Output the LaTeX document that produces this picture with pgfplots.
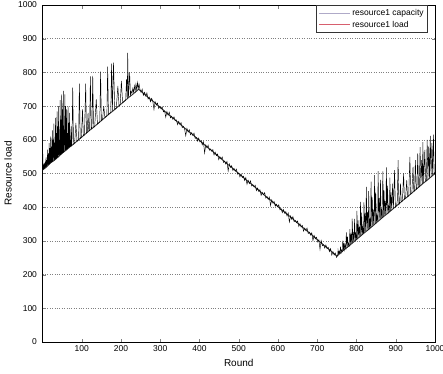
\documentclass[border=0pt]{standalone}
\usepackage{fontspec}
\setmainfont{Liberation Sans}
\usepackage{pgfplots}
\pgfplotsset{compat=1.18}

\definecolor{capcol}{RGB}{175,170,200}
\definecolor{loadcol}{RGB}{215,95,110}

\begin{document}
\begin{tikzpicture}
\begin{axis}[
  at={(0pt,0pt)}, anchor=south west,
  scale only axis,
  width=392.5pt, height=337pt,
  xmin=0, xmax=1000, ymin=0, ymax=1000,
  xtick={100,200,...,1000},
  ytick={0,100,...,1000},
  tick align=inside,
  tick pos=both,
  major tick length=3.5pt,
  ymajorgrids,
  major grid style={black!50, dotted, line width=0.5pt},
  axis line style={black, line width=0.6pt},
  /pgf/number format/assume math mode=true,
  /pgf/number format/1000 sep={},
  tick label style={font=\fontsize{8.5}{10}\selectfont},
  yticklabel style={xshift=-2pt},
  xlabel={Round},
  ylabel={Resource load},
  label style={font=\fontsize{8.5}{10}\selectfont},
  every axis x label/.style={at={(axis description cs:0.5,-0.062)}, anchor=center},
  every axis y label/.style={at={(axis description cs:-0.088,0.5)}, rotate=90, anchor=center},
  legend image code/.code={\draw[#1] (0pt,0pt) -- (31pt,0pt);},
  legend cell align=left,
  legend style={at={(axis description cs:0.982,1)}, anchor=north east,
    draw=black!80, line width=0.5pt, fill=white,
    inner xsep=2pt, inner ysep=2pt,
    row sep=0pt,
    font=\fontsize{8.5}{9.5}\selectfont},
]
\addlegendimage{color=capcol, line width=0.6pt}
\addlegendentry{resource1 capacity}
\addlegendimage{color=loadcol, line width=0.6pt}
\addlegendentry{resource1 load}

% resource1 capacity
\addplot[black!80, line width=0.9pt, forget plot] coordinates {
(0,510)(10,519)(20,531)(30,539)(40,549)(50,560)(60,569)(70,579)(80,588)(90,598)
(100,608)(110,618)(120,628)(130,637)(140,647)(150,657)(160,667)(170,677)(180,686)(190,696)
(200,706)(210,716)(220,726)(230,735)(240,745)(245,750)(250,745)(260,735)(270,725)(280,716)
(290,706)(300,696)(310,686)(320,676)(330,667)(340,657)(350,647)(360,637)(370,627)(380,618)
(390,608)(400,598)(410,588)(420,578)(430,569)(440,559)(450,549)(460,539)(470,529)(480,520)
(490,510)(500,500)(510,490)(520,480)(530,471)(540,461)(550,451)(560,441)(570,431)(580,422)
(590,412)(600,402)(610,392)(620,382)(630,373)(640,363)(650,353)(660,343)(670,333)(680,324)
(690,314)(700,304)(710,294)(720,284)(730,275)(740,265)(750,255)(760,265)(770,275)(780,284)
(790,294)(800,304)(810,314)(820,324)(830,333)(840,343)(850,353)(860,363)(870,373)(880,382)
(890,392)(900,402)(910,412)(920,422)(930,431)(940,441)(950,451)(960,461)(970,471)(980,480)
(990,490)(1000,500)
};

% resource1 load
\addplot[black, line width=0.45pt, forget plot] coordinates {
(0,665)(1,512)(2,512)(3,524)(4,514)(5,530)(6,516)(7,535)(8,518)(9,548)
(10,520)(11,540)(12,522)(13,571)(14,524)(15,560)(16,526)(17,590)(18,528)(19,575)
(20,530)(21,610)(22,532)(23,580)(24,534)(25,628)(26,535)(27,600)(28,537)(29,648)
(30,539)(31,590)(32,541)(33,665)(34,543)(35,620)(36,545)(37,684)(38,547)(39,640)
(40,549)(41,700)(42,551)(43,600)(44,553)(45,718)(46,555)(47,660)(48,557)(49,735)
(50,559)(51,690)(52,561)(53,745)(54,563)(55,630)(56,565)(57,735)(58,567)(59,700)
(60,569)(61,690)(62,571)(63,620)(64,573)(65,700)(66,575)(67,650)(68,577)(69,680)
(70,579)(71,600)(72,580)(73,640)(74,582)
(75,584)(77,755)(79,587)(82,591)(85,650)(88,596)(90,598)(92,600)(94,767)(96,604)
(99,607)(102,690)(104,612)(107,615)(110,767)(112,620)(114,622)(116,680)(118,626)(120,628)
(122,788)(124,632)(126,634)(128,790)(130,637)(133,640)(137,720)(140,647)(143,650)(146,653)
(148,802)(150,657)(153,660)(156,700)(159,666)(162,669)(164,671)(166,817)(168,675)(171,678)
(174,681)(176,826)(178,685)(181,829)(184,690)(186,692)(188,694)(192,760)(195,701)(198,705)
(201,775)(204,710)(206,712)(209,715)(212,718)(214,780)(216,723)(217,858)(219,727)(222,800)
(224,733)(226,744)(228,738)(230,752)(232,741)(234,760)(236,744)(238,765)(240,748)(242,770)
(244,752)(246,765)
(248,751)(251,741)(254,750)(257,732)(260,741)(263,730)(266,739)(269,721)(272,727)(275,713)
(278,723)(281,715)(284,690)(287,713)(290,703)(293,709)(296,693)(299,699)(302,692)(305,698)
(308,683)(311,686)(314,667)(317,684)(320,673)(323,682)(326,665)(329,670)(332,661)(335,668)
(338,657)(341,659)(344,645)(347,655)(350,646)(353,651)(356,636)(359,640)(362,632)(365,612)
(368,634)(371,623)(374,630)(377,615)(380,621)(383,613)(386,620)(389,604)(392,607)(395,596)
(398,605)(401,594)(404,598)(407,585)(410,594)(413,561)(416,585)(419,576)(422,584)(425,569)
(428,573)(431,566)(434,571)(437,555)(440,563)(443,553)(446,558)(449,541)(452,550)(455,543)
(458,549)(461,533)(464,537)(467,528)(470,536)(473,507)(476,528)(479,518)(482,523)(485,509)
(488,515)(491,507)(494,513)(497,498)(500,501)(503,490)(506,499)(509,488)(512,492)(515,479)
(518,488)(521,468)(524,480)(527,470)(530,478)(533,463)(536,467)(539,460)(542,465)(545,449)
(548,457)(551,447)(554,452)(557,435)(560,444)(563,437)(566,443)(569,427)(572,432)(575,423)
(578,430)(581,405)(584,422)(587,412)(590,417)(593,403)(596,409)(599,401)(602,407)(605,392)
(608,395)(611,384)(614,393)(617,382)(620,387)(623,374)(626,383)(629,356)(632,374)(635,364)
(638,372)(641,357)(644,361)(647,354)(650,359)(653,343)(656,351)(659,341)(662,346)(665,329)
(668,338)(671,331)(674,338)(677,322)(680,326)(683,317)(686,324)(689,301)(692,316)(695,306)
(698,311)(701,297)(704,303)(707,275)(710,301)(713,286)(716,289)(719,279)(722,288)(725,277)
(728,281)(731,268)(734,277)(737,258)(740,268)(743,258)(746,264)(749,251)
(752,257)(753,273)(755,260)(756,269)(758,263)(759,283)(761,266)(762,273)(764,269)(765,301)
(767,272)(768,294)(770,275)(771,289)(773,278)(774,325)(776,280)(777,313)(779,283)(780,293)
(782,286)(783,335)(785,289)(786,321)(788,292)(789,366)(791,295)(792,327)(794,298)(795,365)
(797,301)(798,320)(800,304)(801,389)(803,307)(804,361)(806,310)(807,342)(809,313)(810,416)
(812,316)(813,384)(815,319)(816,338)(818,322)(819,414)(821,325)(822,383)(824,328)(825,460)
(827,330)(828,386)(830,333)(831,448)(833,336)(834,366)(836,339)(837,476)(839,342)(840,429)
(842,345)(843,393)(845,348)(846,495)(848,351)(849,443)(851,354)(852,378)(854,357)(855,507)
(857,360)(858,428)(860,363)(861,481)(863,366)(864,396)(866,369)(867,506)(869,372)(870,451)
(872,375)(873,418)(875,378)(876,518)(878,380)(879,464)(881,383)(882,405)(884,386)(885,488)
(887,389)(888,444)(890,392)(892,470)(894,396)(897,510)(899,401)(902,404)(904,420)(906,540)
(908,408)(910,412)(912,470)(914,416)(917,419)(920,500)(922,424)(925,427)(928,480)(930,431)
(933,434)(936,549)(938,439)(941,442)(944,520)(946,447)(948,449)(950,540)(952,453)(954,455)
(956,560)(958,459)(960,461)(962,578)(964,465)(966,540)(968,469)(969,593)(971,472)(974,570)
(976,477)(978,479)(980,600)(982,482)(984,580)(986,486)(988,612)(990,490)(992,590)(994,494)
(996,615)(998,498)(1000,503)
};
\end{axis}
\pgfresetboundingbox
\path[use as bounding box] (-42.5pt,-31pt) rectangle (400.5pt,342pt);
\end{tikzpicture}
\end{document}
